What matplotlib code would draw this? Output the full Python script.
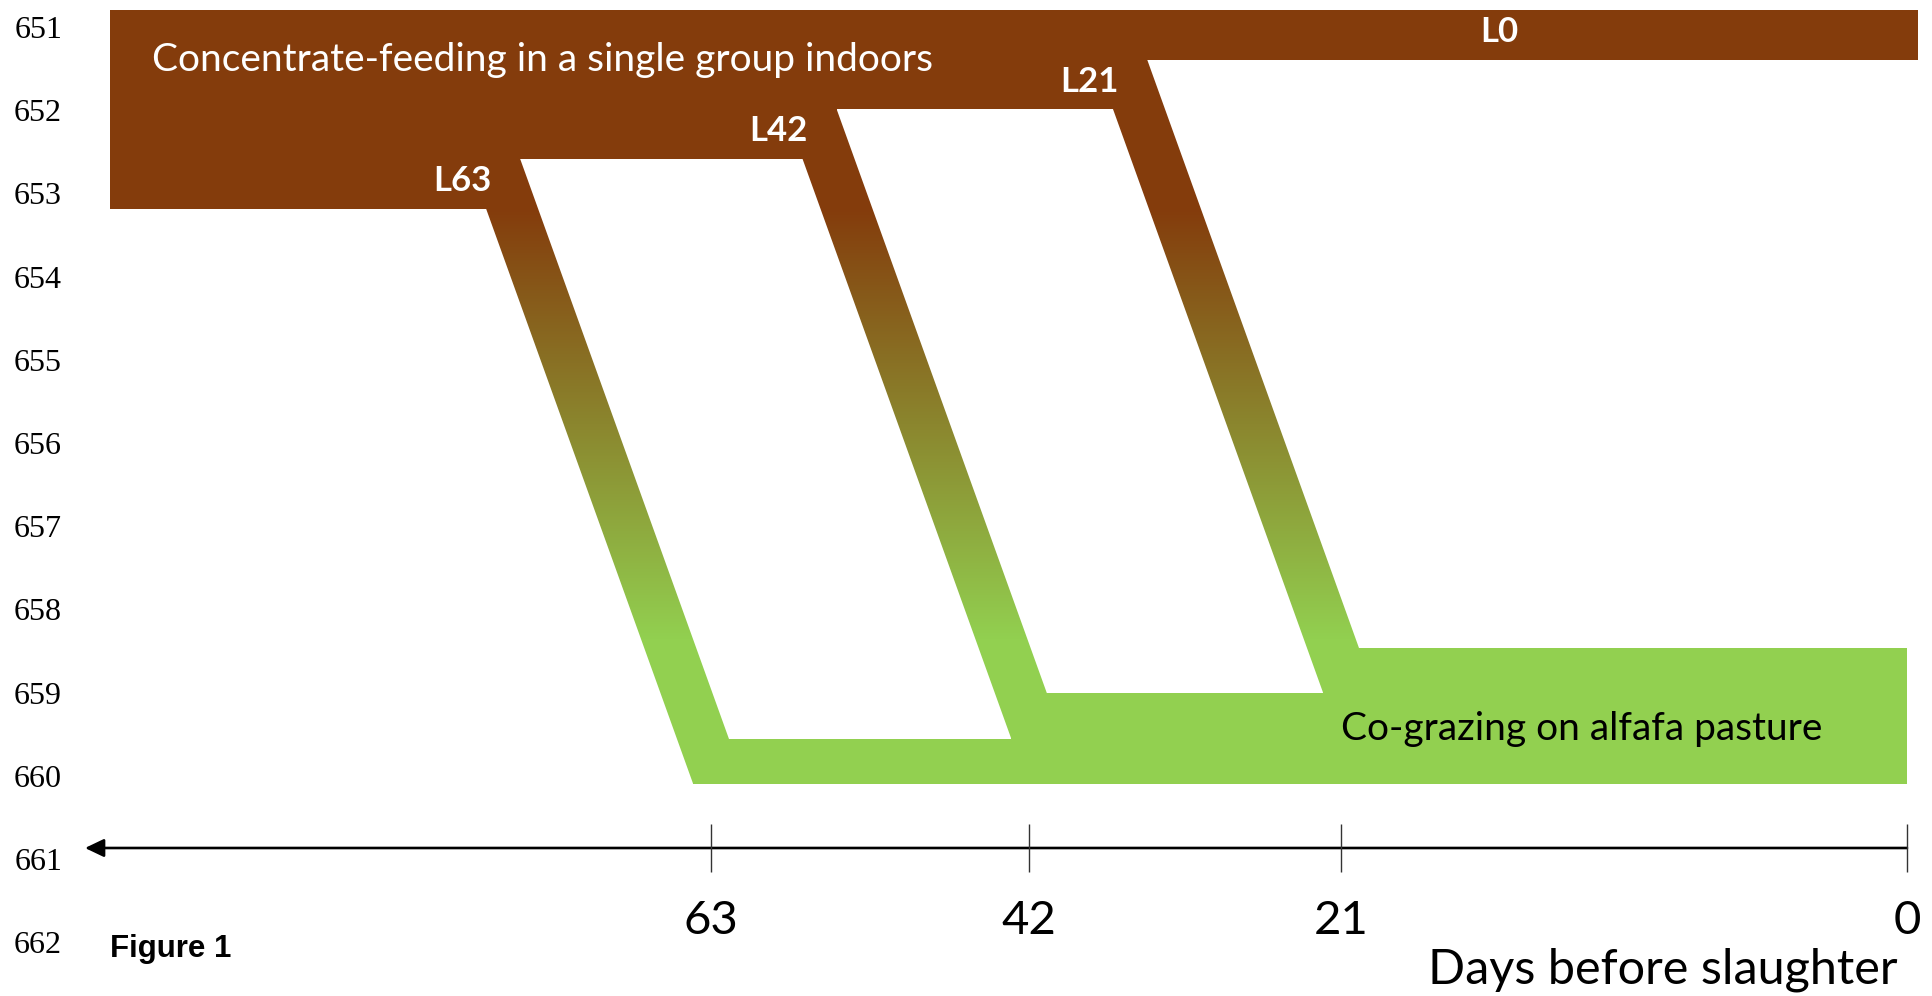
import numpy as np
import matplotlib.pyplot as plt
from matplotlib.patches import Polygon

# ---- data ----
days = [63, 42, 21, 0]
group_labels = ["L63", "L42", "L21", "L0"]
line_numbers = list(range(651, 663))
indoor_text = "Concentrate-feeding in a single group indoors"
pasture_text = "Co-grazing on alfafa pasture"
axis_title = "Days before slaughter"
figure_label = "Figure 1"

BROWN = np.array([0x84, 0x3C, 0x0C]) / 255
GREEN = np.array([0x92, 0xD0, 0x50]) / 255
SANS = "Lato"

W, H = 1933, 996

# layout, in pixels of the output image
tick_px = [711, 1029, 1341, 1907]     # where 63, 42, 21, 0 sit on the arrow
line_px0, line_step = 27, 83.2        # manuscript line numbers on the left
band_top, band_h = 10, 49.7           # indoor (brown) layers
green_bot, green_h = 784, 45.5        # pasture (green) layers
left_px, brown_right_px = 110, 1918
slope, strip_w = 0.36, 52             # switch-over diagonals
grad_top, grad_bot = 210, 640
axis_py = 848

# schematic day axis: piecewise linear between the tick marks
anchor_d = np.array(days[::-1], float)
anchor_p = np.array(tick_px[::-1], float)


def day_to_px(d):
    d = np.asarray(d, float)
    p = np.interp(d, anchor_d, anchor_p)
    s0 = (anchor_p[1] - anchor_p[0]) / (anchor_d[1] - anchor_d[0])
    s1 = (anchor_p[-1] - anchor_p[-2]) / (anchor_d[-1] - anchor_d[-2])
    p = np.where(d < anchor_d[0], anchor_p[0] + (d - anchor_d[0]) * s0, p)
    p = np.where(d > anchor_d[-1], anchor_p[-1] + (d - anchor_d[-1]) * s1, p)
    return p


def px_to_day(p):
    p = np.asarray(p, float)
    xp, fp = anchor_p[::-1], anchor_d[::-1]
    d = np.interp(p, xp, fp)
    s0 = (fp[1] - fp[0]) / (xp[1] - xp[0])
    s1 = (fp[-1] - fp[-2]) / (xp[-1] - xp[-2])
    d = np.where(p < xp[0], fp[0] + (p - xp[0]) * s0, d)
    d = np.where(p > xp[-1], fp[-1] + (p - xp[-1]) * s1, d)
    return d


# the scale must be increasing, so work with minus the pixel column
def fwd(d):
    return -day_to_px(d)


def inv(q):
    return px_to_day(-np.asarray(q, float))


def ly(py):
    return line_numbers[0] + (py - line_px0) / line_step


def to_data(pts):
    pts = np.asarray(pts, float)
    return np.column_stack([px_to_day(pts[:, 0]), ly(pts[:, 1])])


fig = plt.figure(figsize=(W / 100, H / 100), dpi=100)
ax = fig.add_axes([0, 0, 1, 1])
ax.set_xscale("function", functions=(fwd, inv))

# shapes: brown layers, diagonals, green layers
pieces = []
label_pos = []
half = strip_w / 2
end_px = float(day_to_px(days[-1]))
for i, d in enumerate(days):
    k = len(days) - 1 - i
    y0 = band_top + k * band_h
    y1 = y0 + band_h
    yc = (y0 + y1) / 2
    if d == days[-1]:
        pieces.append([(left_px, y0), (brown_right_px, y0), (brown_right_px, y1), (left_px, y1)])
        label_pos.append((1499, yc + 7, "center"))
        continue
    gb = green_bot - i * green_h
    gt = gb - green_h
    x0 = float(day_to_px(d))
    ym = (gt + gb) / 2

    def cx(y):
        return x0 + slope * (y - ym)

    pieces.append([(left_px, y0), (cx(y0) + half, y0), (cx(y0) + half, y1), (left_px, y1)])
    pieces.append([(cx(y0) - half, y0), (cx(y0) + half, y0), (cx(gb) + half, gb), (cx(gb) - half, gb)])
    pieces.append([(cx(gb) - half, gt), (end_px, gt), (end_px, gb), (cx(gb) - half, gb)])
    label_pos.append((cx(yc) - half + 14, yc + 7, "right"))

rows = np.arange(H) + 0.5
t = np.clip((rows - grad_top) / (grad_bot - grad_top), 0, 1)[:, None, None]
grad = BROWN * (1 - t) + GREEN * t
ext = (float(px_to_day(0)), float(px_to_day(W)), ly(H), ly(0))
for pts in pieces:
    poly = Polygon(to_data(pts), closed=True, transform=ax.transData, fc="none", ec="none")
    ax.add_patch(poly)
    im = ax.imshow(grad, extent=ext, aspect="auto", interpolation="nearest", zorder=1)
    im.set_clip_path(poly)

# labels on the shapes
for (px, py, ha), lab in zip(label_pos, group_labels):
    ax.text(float(px_to_day(px)), ly(py), lab, ha=ha, va="baseline", color="white",
            fontsize=25, fontweight="bold", family=SANS, zorder=4)
ax.text(float(px_to_day(152)), ly(71), indoor_text, ha="left", va="baseline",
        color="white", fontsize=28, family=SANS, zorder=4)
ax.text(days[2], ly(740), pasture_text, ha="left", va="baseline",
        color="black", fontsize=28, family=SANS, zorder=4)

# day axis with arrow
ax.annotate("", xy=(float(px_to_day(85)), ly(axis_py)), xytext=(days[-1], ly(axis_py)),
            arrowprops=dict(arrowstyle="-|>,head_length=1.15,head_width=0.55", lw=1.9,
                            color="black", shrinkA=0, shrinkB=0, mutation_scale=10),
            zorder=3)
ax.vlines(days, ly(axis_py - 24), ly(axis_py + 24), colors="#333333", lw=1.0, zorder=3)
for d in days:
    ax.text(d, ly(934), str(d), ha="center", va="baseline", fontsize=34, family=SANS)
ax.text(float(px_to_day(1898)), ly(984), axis_title, ha="right", va="baseline",
        fontsize=35, family=SANS)
ax.text(float(px_to_day(left_px)), ly(956.7), figure_label, ha="left", va="baseline",
        fontsize=22.5, fontweight="bold", family="Liberation Sans")

# manuscript line numbers as y tick labels
ax.set_yticks(line_numbers)
ax.set_yticklabels([str(n) for n in line_numbers])
ax.tick_params(axis="y", length=0, pad=-62 * 0.72, labelsize=23)
for lab in ax.get_yticklabels():
    lab.set_family("Liberation Serif")
ax.set_xticks([])
for s in ax.spines.values():
    s.set_visible(False)

ax.set_xlim(float(px_to_day(0)), float(px_to_day(W)))
ax.set_ylim(ly(H), ly(0))

fig.savefig("out.png", dpi=100, facecolor="white")
